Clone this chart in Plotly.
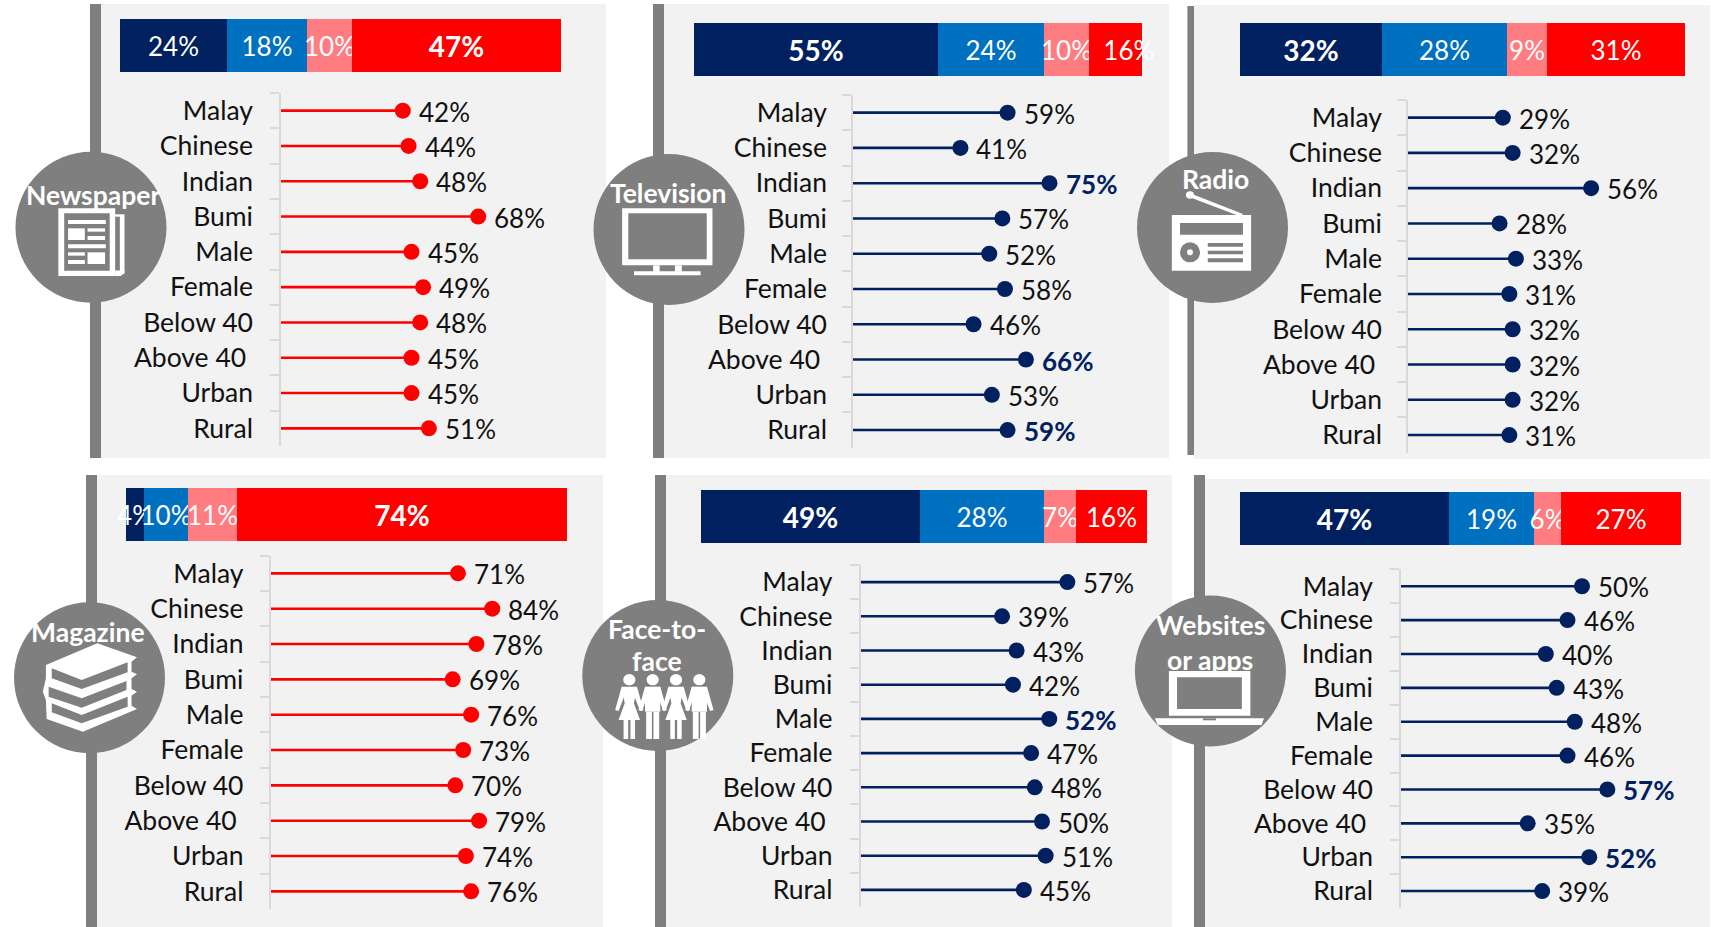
import plotly.graph_objects as go

W, H = 1711, 927
FONT = "Lato"
NAVY, BLUE, PINK, RED = "#002060", "#0070C0", "#FF7C80", "#FF0000"
GREY, BG, TICK = "#7F7F7F", "#F2F2F2", "#D9D9D9"

categories = ["Malay", "Chinese", "Indian", "Bumi", "Male", "Female", "Below 40", "Above 40\u00a0", "Urban", "Rural"]
segment_colors = [NAVY, BLUE, PINK, RED]

newspaper_vals = [42, 44, 48, 68, 45, 49, 48, 45, 45, 51]
television_vals = [59, 41, 75, 57, 52, 58, 46, 66, 53, 59]
radio_vals = [29, 32, 56, 28, 33, 31, 32, 32, 32, 31]
magazine_vals = [71, 84, 78, 69, 76, 73, 70, 79, 74, 76]
face_vals = [57, 39, 43, 42, 52, 47, 48, 50, 51, 45]
websites_vals = [50, 46, 40, 43, 48, 46, 57, 35, 52, 39]

newspaper_share = [24, 18, 10, 47]
television_share = [55, 24, 10, 12]
radio_share = [32, 28, 9, 31]
magazine_share = [4, 10, 11, 74]
face_share = [49, 28, 7, 16]
websites_share = [47, 19, 6, 27]

newspaper_share_labels = ["24%", "18%", "10%", "<b>47%</b>"]
television_share_labels = ["<b>55%</b>", "24%", "10%", "\u00a0\u00a0\u00a0\u00a016%"]
radio_share_labels = ["<b>32%</b>", "28%", "9%", "31%"]
magazine_share_labels = ["4%", "10%", "11%", "<b>74%</b>"]
face_share_labels = ["<b>49%</b>", "28%", "7%", "16%"]
websites_share_labels = ["<b>47%</b>", "19%", "6%", "27%"]

television_bold = ["Indian", "Above 40\u00a0", "Rural"]
face_bold = ["Male"]
websites_bold = ["Below 40", "Urban"]

panels = [
    dict(vals=newspaper_vals, share=newspaper_share, labels=newspaper_share_labels, bold=[], color=RED,
         bg=(101, 4, 606, 458), strip=(90, 4, 101, 458), circle=(91, 227.3), bar=(120, 19, 561, 72),
         zero=281, slope=2.90, axis=(93, 446), standoff=21),
    dict(vals=television_vals, share=television_share, labels=television_share_labels, bold=television_bold, color=NAVY,
         bg=(664, 4, 1169, 458), strip=(653, 4, 664, 458), circle=(669, 229.5), bar=(694, 23, 1142, 76),
         zero=853, slope=2.62, axis=(95, 447.7), standoff=19),
    dict(vals=radio_vals, share=radio_share, labels=radio_share_labels, bold=[], color=NAVY,
         bg=(1194, 5, 1710, 459), strip=(1187.4, 6, 1194, 455), circle=(1212.5, 227.5), bar=(1240, 23, 1685, 76),
         zero=1408, slope=3.27, axis=(100, 452.7), standoff=19),
    dict(vals=magazine_vals, share=magazine_share, labels=magazine_share_labels, bold=[], color=RED,
         bg=(97, 475, 603, 927), strip=(86, 475, 97, 927), circle=(89.5, 677.7), bar=(126, 488, 567, 541),
         zero=270.5, slope=2.64, axis=(555.7, 909), standoff=20),
    dict(vals=face_vals, share=face_share, labels=face_share_labels, bold=face_bold, color=NAVY,
         bg=(666, 475, 1172, 927), strip=(655, 475, 666, 927), circle=(657.8, 675.5), bar=(701, 490, 1147, 543),
         zero=860.5, slope=3.63, axis=(565, 907), standoff=21),
    dict(vals=websites_vals, share=websites_share, labels=websites_share_labels, bold=websites_bold, color=NAVY,
         bg=(1205, 479, 1710, 927), strip=(1194, 475, 1205, 927), circle=(1210.4, 671), bar=(1240, 492, 1681, 545),
         zero=1401, slope=3.62, axis=(569.3, 908), standoff=21),
]

circle_titles = [
    [("Newspaper", 92.6, 195)],
    [("Television", 668.5, 193)],
    [("Radio", 1215, 179)],
    [("Magazine", 87.5, 632)],
    [("Face-to-", 657, 629), ("face", 657, 661)],
    [("Websites", 1210, 625), ("or apps", 1210, 660)],
]


def px(x):
    return x / W


def py(y):
    return 1 - y / H


def rect(x0, y0, x1, y1, color):
    return dict(type="rect", xref="paper", yref="paper", x0=px(x0), x1=px(x1), y0=py(y0), y1=py(y1),
                fillcolor=color, line=dict(width=0), layer="below")


def disc(cx, cy, rx, ry, color):
    return dict(type="circle", xref="paper", yref="paper", x0=px(cx - rx), x1=px(cx + rx), y0=py(cy - ry),
                y1=py(cy + ry), fillcolor=color, line=dict(width=0), layer="below")


def poly(points, color, line=0):
    d = "M " + " L ".join(f"{px(x):.5f} {py(y):.5f}" for x, y in points) + " Z"
    return dict(type="path", xref="paper", yref="paper", path=d, fillcolor=color,
                line=dict(width=line, color=color), layer="below")


class Icon:
    """Maps coordinates measured on a crop of the reference into page pixels."""

    def __init__(self, ox, oy, sx):
        self.ox, self.oy, self.sx = ox, oy, sx

    def p(self, x, y):
        return self.ox + x / self.sx, self.oy + y / 3

    def rect(self, x0, y0, x1, y1, color="white"):
        a = self.p(x0, y0)
        b = self.p(x1, y1)
        return rect(a[0], a[1], b[0], b[1], color)

    def poly(self, pts, color="white", line=0):
        return poly([self.p(*q) for q in pts], color, line)

    def disc(self, cx, cy, rx, ry, color="white"):
        c = self.p(cx, cy)
        return disc(c[0], c[1], rx / self.sx, ry / 3, color)


def newspaper_icon():
    i = Icon(0, 0, 2.57)
    s = [i.rect(284, 643, 320, 818), i.rect(295, 650, 308, 812, GREY),
         i.rect(150, 625, 296, 828), i.poly([(296, 812), (320, 812), (320, 820), (310, 828), (296, 828)]),
         i.rect(165, 640, 282, 812, GREY)]
    for r in [(175, 660, 272, 672), (175, 685, 218, 720), (225, 685, 270, 695), (225, 708, 270, 720),
              (175, 733, 272, 745), (175, 757, 218, 767), (175, 780, 218, 792), (225, 757, 270, 792)]:
        s.append(i.rect(*r))
    return s


def tv_icon():
    i = Icon(590, 0, 2.613)
    return [i.rect(84, 625, 320, 796), i.rect(100, 640, 305, 778, GREY), i.rect(165, 796, 182, 815),
            i.rect(222, 796, 240, 815), i.rect(115, 814, 289, 826)]


def radio_icon():
    i = Icon(1130, 0, 2.70)
    s = [i.poly([(162, 580), (305, 642), (300, 650), (158, 590)]), i.disc(162, 585, 11, 11),
         i.rect(113, 645, 327, 812), i.rect(135, 669, 305, 704, GREY), i.disc(162, 757, 27, 30, GREY),
         i.disc(162, 757, 8, 9)]
    for r in [(210, 729, 305, 740), (210, 752, 305, 763), (210, 775, 305, 787)]:
        s.append(i.rect(*r, GREY))
    return s


def books_icon():
    i = Icon(0, 465, 2.57)
    outer = [(250, 535), (352, 577), (338, 590), (338, 620), (352, 628), (338, 640), (338, 672), (352, 680), (338, 692),
             (338, 722), (352, 732), (213, 800), (120, 762), (118, 705), (110, 680), (118, 640), (118, 600)]
    return [i.poly(outer),
            i.poly([(133, 610), (210, 645), (328, 592), (328, 622), (210, 672), (133, 640)], GREY),
            i.poly([(125, 665), (210, 700), (325, 648), (325, 675), (210, 728), (125, 695)], GREY),
            i.poly([(133, 715), (210, 750), (328, 695), (328, 725), (210, 775), (133, 742)], GREY)]


def people_icon():
    i = Icon(570, 465, 2.613)
    s = []
    for cx, female in [(155, True), (216, False), (277, True), (338, False)]:
        s.append(i.disc(cx, 644, 16, 17))
        s.append(i.poly([(cx - 20, 665), (cx - 37, 735), (cx - 28, 738), (cx - 12, 690)]))
        s.append(i.poly([(cx + 20, 665), (cx + 37, 735), (cx + 28, 738), (cx + 12, 690)]))
        if female:
            s.append(i.poly([(cx - 20, 665), (cx + 20, 665), (cx + 12, 715), (cx + 28, 765), (cx - 28, 765), (cx - 12, 715)]))
            s.append(i.rect(cx - 15, 765, cx - 3, 822))
            s.append(i.rect(cx + 3, 765, cx + 15, 822))
        else:
            s.append(i.rect(cx - 20, 665, cx + 20, 740))
            s.append(i.rect(cx - 17, 740, cx - 2, 822))
            s.append(i.rect(cx + 2, 740, cx + 17, 822))
    return s


def laptop_icon():
    i = Icon(1130, 465, 2.70)
    return [i.rect(105, 618, 325, 752), i.rect(127, 637, 302, 732, GREY),
            i.poly([(67, 760), (362, 760), (355, 780), (75, 780)]), i.rect(197, 760, 232, 766, GREY)]


fig = go.Figure()
shapes, annotations = [], []
layout_axes = {}

for n, p in enumerate(panels):
    shapes.append(rect(*p["bg"], BG))
    shapes.append(rect(*p["strip"], GREY))
    shapes.append(disc(p["circle"][0], p["circle"][1], 75.5, 75.5, GREY))

    # stacked share bar
    ax_bar = 2 * n + 1
    bx0, by0, bx1, by1 = p["bar"]
    layout_axes[f"xaxis{ax_bar}"] = dict(domain=[px(bx0), px(bx1)], range=[0, sum(p["share"])], visible=False,
                                         anchor=f"y{ax_bar}", fixedrange=True)
    layout_axes[f"yaxis{ax_bar}"] = dict(domain=[py(by1), py(by0)], visible=False, anchor=f"x{ax_bar}",
                                         type="category", fixedrange=True)
    for v, lab, col in zip(p["share"], p["labels"], segment_colors):
        fig.add_trace(go.Bar(x=[v], y=["share"], orientation="h", marker=dict(color=col, line=dict(width=0)),
                             text=[lab], textposition="inside", insidetextanchor="middle", constraintext="none",
                             textangle=0, cliponaxis=False,
                             textfont=dict(family=FONT, size=28 if "<b>" in lab else 26, color="white"),
                             xaxis=f"x{ax_bar}", yaxis=f"y{ax_bar}", showlegend=False, hoverinfo="skip"))

    # lollipop rows
    ax = 2 * n + 2
    a0, a1 = p["axis"]
    span = min(100, int((W - 1 - p["zero"]) / p["slope"]))
    layout_axes[f"xaxis{ax}"] = dict(domain=[px(p["zero"]), px(p["zero"] + p["slope"] * span)], range=[0, span],
                                     visible=False, anchor=f"y{ax}", fixedrange=True)
    layout_axes[f"yaxis{ax}"] = dict(domain=[py(a1), py(a0)], anchor=f"x{ax}", type="category",
                                     categoryorder="array", categoryarray=categories, range=[9.5, -0.5],
                                     tickson="boundaries", ticks="outside", ticklen=9, tickwidth=1.5, tickcolor=TICK,
                                     showline=True, linecolor=TICK, linewidth=1.5, showgrid=False, zeroline=False,
                                     ticklabelstandoff=p["standoff"], fixedrange=True,
                                     tickfont=dict(family=FONT, size=26.5, color="#111111"))
    fig.add_trace(go.Scatter(x=p["vals"], y=categories, mode="markers",
                             marker=dict(size=16, color=p["color"]),
                             error_x=dict(type="data", symmetric=False, array=[0] * 10, arrayminus=p["vals"],
                                          color=p["color"], thickness=2.6, width=0),
                             cliponaxis=False,
                             xaxis=f"x{ax}", yaxis=f"y{ax}", showlegend=False, hoverinfo="skip"))
    for r, (c, v) in enumerate(zip(categories, p["vals"])):
        is_bold = c in p["bold"]
        annotations.append(dict(text=f"<b>{v}%</b>" if is_bold else f"{v}%", x=v, y=r, xref=f"x{ax}", yref=f"y{ax}",
                                xanchor="left", yanchor="middle", xshift=14, yshift=-1, showarrow=False,
                                font=dict(family=FONT, size=26, color=NAVY if is_bold else "#111111")))

    for txt, tx, ty in circle_titles[n]:
        annotations.append(dict(text=f"<b>{txt}</b>", x=px(tx), y=py(ty), xref="paper", yref="paper", showarrow=False,
                                xanchor="center", yanchor="middle", font=dict(family=FONT, size=26.5, color="white")))

shapes += newspaper_icon() + tv_icon() + radio_icon() + books_icon() + people_icon() + laptop_icon()

fig.update_layout(width=W, height=H, margin=dict(l=0, r=0, t=0, b=0), paper_bgcolor="white", plot_bgcolor="rgba(0,0,0,0)",
                  barmode="stack", bargap=0, shapes=shapes, annotations=annotations, showlegend=False, **layout_axes)

fig.write_html("out.html", config={"displayModeBar": False},
               post_script="document.body.style.margin='0';document.body.style.overflow='hidden';")
